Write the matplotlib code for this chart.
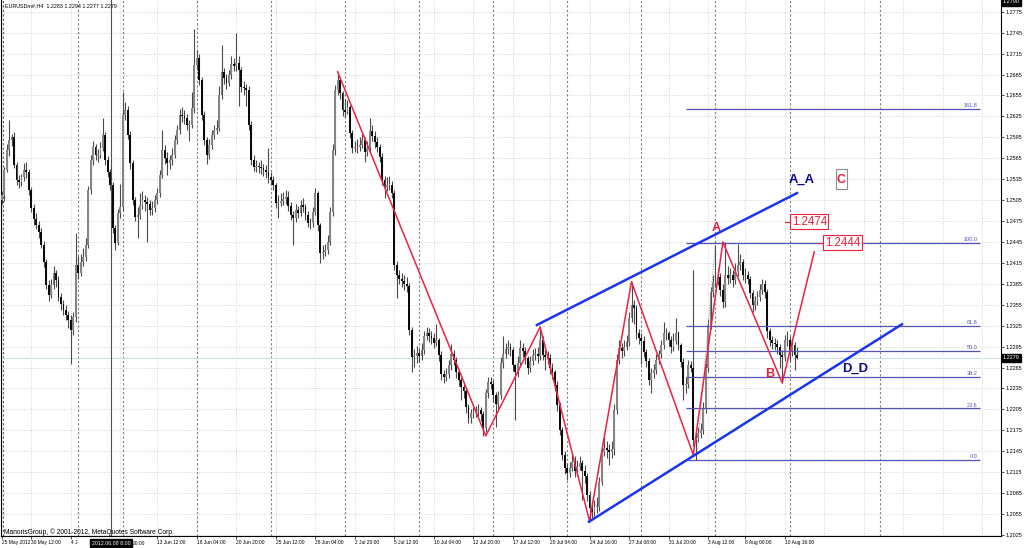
import numpy as np
import matplotlib
matplotlib.use("Agg")
import matplotlib.pyplot as plt
from matplotlib.patches import Rectangle
from matplotlib.transforms import blended_transform_factory

plt.rcParams['font.family'] = ['Liberation Sans', 'DejaVu Sans']

# EURUSD H4 bars, quotes stored as the four digits after "1." (2512 -> 1.2512)
opens = [
    2505, 2512, 2548, 2577, 2591, 2595, 2555, 2534, 2531, 2538,
    2548, 2545, 2519, 2494, 2478, 2469, 2459, 2441, 2416, 2383,
    2369, 2383, 2400, 2390, 2366, 2356, 2347, 2340, 2333, 2319,
    2337, 2412, 2400, 2416, 2423, 2441, 2519, 2562, 2581, 2570,
    2570, 2580, 2598, 2562, 2545, 2527, 2465, 2443, 2486, 2495,
    2627, 2634, 2598, 2558, 2505, 2481, 2484, 2498, 2505, 2502,
    2499, 2491, 2494, 2505, 2515, 2541, 2577, 2565, 2558, 2562,
    2570, 2591, 2605, 2627, 2626, 2623, 2613, 2613, 2637, 2699,
    2709, 2677, 2627, 2591, 2570, 2584, 2598, 2605, 2609, 2655,
    2689, 2680, 2673, 2684, 2700, 2697, 2701, 2691, 2667, 2665,
    2663, 2613, 2562, 2552, 2554, 2552, 2551, 2548, 2545, 2538,
    2534, 2527, 2501, 2501, 2504, 2507, 2509, 2497, 2484, 2480,
    2491, 2487, 2498, 2495, 2484, 2472, 2472, 2488, 2515, 2469,
    2429, 2430, 2433, 2445, 2488, 2577, 2663, 2677, 2658, 2634,
    2631, 2638, 2601, 2580, 2581, 2581, 2584, 2591, 2574, 2580,
    2604, 2597, 2588, 2581, 2567, 2534, 2524, 2527, 2527, 2515,
    2412, 2397, 2392, 2389, 2385, 2382, 2319, 2280, 2281, 2286,
    2281, 2290, 2310, 2314, 2310, 2308, 2300, 2304, 2283, 2255,
    2251, 2255, 2268, 2284, 2276, 2258, 2247, 2237, 2232, 2208,
    2192, 2200, 2200, 2202, 2204, 2198, 2178, 2228, 2244, 2242,
    2225, 2212, 2225, 2271, 2284, 2291, 2294, 2290, 2268, 2258,
    2272, 2293, 2288, 2278, 2265, 2274, 2283, 2284, 2281, 2304,
    2283, 2280, 2279, 2265, 2258, 2240, 2211, 2175, 2140, 2121,
    2114, 2121, 2130, 2117, 2123, 2128, 2117, 2110, 2082, 2064,
    2058, 2065, 2065, 2101, 2144, 2150, 2147, 2144, 2148, 2204,
    2276, 2293, 2288, 2294, 2301, 2336, 2354, 2351, 2314, 2307,
    2303, 2287, 2274, 2247, 2257, 2261, 2276, 2284, 2297, 2314,
    2314, 2305, 2294, 2303, 2314, 2297, 2273, 2240, 2242, 2268,
    2264, 2161, 2164, 2171, 2175, 2207, 2264, 2326, 2373, 2388,
    2388, 2395, 2376, 2359, 2397, 2393, 2397, 2390, 2402, 2412,
    2416, 2397, 2397, 2392, 2372, 2354, 2360, 2366, 2376, 2384,
    2373, 2317, 2304, 2300, 2299, 2294, 2283, 2280, 2304, 2304,
    2287, 2297, 2283]
highs = [
    2518, 2552, 2586, 2620, 2600, 2603, 2560, 2541, 2543, 2558,
    2560, 2550, 2524, 2500, 2486, 2475, 2465, 2446, 2420, 2391,
    2392, 2410, 2405, 2396, 2372, 2362, 2355, 2346, 2340, 2345,
    2458, 2425, 2428, 2436, 2450, 2525, 2570, 2590, 2586, 2578,
    2588, 2622, 2603, 2568, 2550, 2531, 2470, 2492, 2528, 2660,
    2645, 2640, 2604, 2562, 2510, 2495, 2515, 2518, 2512, 2510,
    2505, 2503, 2512, 2522, 2548, 2605, 2584, 2574, 2570, 2580,
    2598, 2612, 2636, 2638, 2634, 2628, 2620, 2660, 2750, 2720,
    2715, 2682, 2632, 2596, 2592, 2606, 2613, 2620, 2668, 2728,
    2695, 2686, 2692, 2712, 2708, 2745, 2712, 2696, 2675, 2672,
    2668, 2618, 2570, 2562, 2560, 2562, 2557, 2555, 2580, 2545,
    2540, 2530, 2512, 2515, 2516, 2520, 2518, 2502, 2490, 2500,
    2497, 2505, 2508, 2500, 2490, 2480, 2495, 2522, 2518, 2472,
    2440, 2442, 2455, 2495, 2585, 2670, 2689, 2682, 2662, 2650,
    2648, 2642, 2606, 2590, 2592, 2595, 2600, 2596, 2590, 2622,
    2612, 2604, 2596, 2586, 2572, 2540, 2538, 2540, 2532, 2520,
    2418, 2405, 2400, 2398, 2395, 2386, 2323, 2292, 2296, 2292,
    2300, 2318, 2323, 2322, 2318, 2315, 2328, 2308, 2288, 2262,
    2264, 2276, 2298, 2290, 2280, 2262, 2252, 2242, 2236, 2212,
    2206, 2208, 2210, 2212, 2208, 2202, 2234, 2252, 2252, 2247,
    2230, 2232, 2280, 2310, 2300, 2304, 2300, 2295, 2270, 2282,
    2305, 2300, 2295, 2282, 2282, 2292, 2293, 2294, 2325, 2310,
    2290, 2288, 2284, 2272, 2262, 2245, 2215, 2180, 2146, 2128,
    2130, 2140, 2138, 2132, 2138, 2133, 2125, 2114, 2088, 2070,
    2075, 2080, 2108, 2150, 2166, 2160, 2155, 2160, 2212, 2285,
    2305, 2300, 2304, 2312, 2345, 2388, 2362, 2355, 2320, 2315,
    2310, 2292, 2278, 2265, 2270, 2285, 2290, 2305, 2330, 2322,
    2318, 2310, 2315, 2336, 2318, 2300, 2278, 2252, 2276, 2275,
    2405, 2172, 2180, 2186, 2215, 2272, 2334, 2380, 2398, 2440,
    2408, 2400, 2384, 2445, 2410, 2408, 2405, 2415, 2442, 2428,
    2420, 2408, 2404, 2396, 2376, 2368, 2375, 2385, 2392, 2390,
    2378, 2322, 2310, 2308, 2305, 2298, 2290, 2312, 2318, 2310,
    2306, 2302, 2294]
lows = [
    2500, 2504, 2545, 2568, 2582, 2551, 2527, 2522, 2525, 2533,
    2537, 2512, 2488, 2470, 2463, 2450, 2436, 2409, 2377, 2360,
    2364, 2378, 2380, 2361, 2348, 2340, 2333, 2322, 2270, 2312,
    2330, 2392, 2396, 2410, 2418, 2436, 2514, 2556, 2562, 2560,
    2565, 2575, 2556, 2538, 2520, 2458, 2434, 2440, 2480, 2490,
    2620, 2592, 2550, 2498, 2475, 2450, 2478, 2492, 2490, 2445,
    2483, 2484, 2488, 2500, 2510, 2536, 2557, 2541, 2550, 2556,
    2566, 2586, 2600, 2617, 2614, 2606, 2590, 2608, 2630, 2692,
    2670, 2620, 2584, 2557, 2564, 2578, 2592, 2600, 2604, 2650,
    2672, 2664, 2668, 2678, 2690, 2690, 2640, 2660, 2655, 2640,
    2605, 2555, 2546, 2545, 2544, 2543, 2540, 2537, 2530, 2526,
    2520, 2494, 2480, 2496, 2498, 2500, 2490, 2476, 2440, 2474,
    2480, 2482, 2488, 2477, 2466, 2463, 2467, 2484, 2460, 2415,
    2420, 2425, 2428, 2440, 2482, 2570, 2655, 2650, 2626, 2624,
    2628, 2594, 2572, 2574, 2572, 2576, 2580, 2560, 2568, 2576,
    2590, 2580, 2574, 2560, 2527, 2508, 2518, 2520, 2508, 2405,
    2365, 2385, 2380, 2376, 2373, 2312, 2258, 2266, 2272, 2273,
    2276, 2285, 2305, 2302, 2298, 2293, 2296, 2275, 2247, 2243,
    2245, 2250, 2262, 2268, 2250, 2238, 2218, 2222, 2200, 2185,
    2186, 2192, 2194, 2196, 2188, 2167, 2172, 2222, 2234, 2216,
    2180, 2206, 2220, 2265, 2278, 2284, 2282, 2260, 2190, 2252,
    2268, 2280, 2270, 2256, 2258, 2268, 2276, 2272, 2276, 2276,
    2262, 2270, 2256, 2248, 2232, 2203, 2168, 2132, 2112, 2104,
    2108, 2116, 2108, 2110, 2118, 2075, 2100, 2074, 2045, 2048,
    2052, 2057, 2060, 2096, 2138, 2135, 2125, 2136, 2140, 2198,
    2270, 2279, 2282, 2290, 2296, 2330, 2328, 2306, 2298, 2270,
    2280, 2266, 2240, 2228, 2250, 2255, 2270, 2278, 2292, 2305,
    2296, 2286, 2288, 2298, 2290, 2266, 2218, 2228, 2236, 2258,
    2152, 2133, 2158, 2164, 2170, 2200, 2258, 2320, 2366, 2380,
    2383, 2368, 2350, 2352, 2384, 2386, 2380, 2385, 2396, 2405,
    2390, 2386, 2384, 2364, 2345, 2348, 2355, 2360, 2370, 2365,
    2308, 2296, 2292, 2290, 2284, 2265, 2243, 2274, 2296, 2275,
    2282, 2262, 2277]
closes = [
    2512, 2548, 2577, 2591, 2595, 2555, 2534, 2531, 2538, 2548,
    2545, 2519, 2494, 2478, 2469, 2459, 2441, 2416, 2383, 2369,
    2383, 2400, 2390, 2366, 2356, 2347, 2340, 2333, 2319, 2337,
    2412, 2400, 2416, 2423, 2441, 2519, 2562, 2581, 2570, 2570,
    2580, 2598, 2562, 2545, 2527, 2465, 2443, 2486, 2495, 2627,
    2634, 2598, 2558, 2505, 2481, 2484, 2498, 2505, 2502, 2499,
    2491, 2494, 2505, 2515, 2541, 2577, 2565, 2558, 2562, 2570,
    2591, 2605, 2627, 2626, 2623, 2613, 2613, 2637, 2699, 2709,
    2677, 2627, 2591, 2570, 2584, 2598, 2605, 2609, 2655, 2689,
    2680, 2673, 2684, 2700, 2697, 2701, 2691, 2667, 2665, 2663,
    2613, 2562, 2552, 2554, 2552, 2551, 2548, 2545, 2538, 2534,
    2527, 2501, 2501, 2504, 2507, 2509, 2497, 2484, 2480, 2491,
    2487, 2498, 2495, 2484, 2472, 2472, 2488, 2515, 2469, 2429,
    2430, 2433, 2445, 2488, 2577, 2663, 2677, 2658, 2634, 2631,
    2638, 2601, 2580, 2581, 2581, 2584, 2591, 2574, 2580, 2604,
    2597, 2588, 2581, 2567, 2534, 2524, 2527, 2527, 2515, 2412,
    2397, 2392, 2389, 2385, 2382, 2319, 2280, 2281, 2286, 2281,
    2290, 2310, 2314, 2310, 2308, 2300, 2304, 2283, 2255, 2251,
    2255, 2268, 2284, 2276, 2258, 2247, 2237, 2232, 2208, 2192,
    2200, 2200, 2202, 2204, 2198, 2178, 2228, 2244, 2242, 2225,
    2212, 2225, 2271, 2284, 2291, 2294, 2290, 2268, 2258, 2272,
    2293, 2288, 2278, 2265, 2274, 2283, 2284, 2281, 2304, 2283,
    2280, 2279, 2265, 2258, 2240, 2211, 2175, 2140, 2121, 2114,
    2121, 2130, 2117, 2123, 2128, 2117, 2110, 2082, 2064, 2058,
    2065, 2065, 2101, 2144, 2150, 2147, 2144, 2148, 2204, 2276,
    2293, 2288, 2294, 2301, 2336, 2354, 2351, 2314, 2307, 2303,
    2287, 2274, 2247, 2257, 2261, 2276, 2284, 2297, 2314, 2314,
    2305, 2294, 2303, 2314, 2297, 2273, 2240, 2242, 2268, 2264,
    2161, 2164, 2171, 2175, 2207, 2264, 2326, 2373, 2388, 2388,
    2395, 2376, 2359, 2397, 2393, 2397, 2390, 2402, 2412, 2416,
    2397, 2397, 2392, 2372, 2354, 2360, 2366, 2376, 2384, 2373,
    2317, 2304, 2300, 2299, 2294, 2283, 2280, 2304, 2304, 2287,
    2297, 2283, 2279]

# time scale labels (bar index where each label starts); two are half hidden
# behind the crosshair date box in the screenshot
time_pos = [0, 12, 28, 63, 79, 95, 111, 127, 143, 159, 175, 191,
            207, 222, 238, 254, 270, 286, 301, 317]
time_labels = ["25 May 2012", "30 May 12:00", "4 J",
               "13 Jun 12:00", "18 Jun 04:00", "20 Jun 20:00", "25 Jun 12:00",
               "28 Jun 04:00", "2 Jul 20:00", "5 Jul 12:00", "10 Jul 04:00",
               "12 Jul 20:00", "17 Jul 12:00", "20 Jul 04:00", "24 Jul 16:00",
               "27 Jul 08:00", "31 Jul 20:00", "3 Aug 12:00", "8 Aug 00:00",
               "10 Aug 16:00"]
grid_pos = [0, 12, 28, 48, 63, 79, 95, 111, 127, 143, 159, 175, 191, 207, 222,
            238, 254, 270, 286, 301, 317, 333, 349, 365, 381, 397]
week_starts = [31, 49, 79, 109, 139, 169, 199, 229, 259, 289, 319, 355.6]
price_ticks = [1.2025, 1.2055, 1.2085, 1.2115, 1.2145, 1.2175, 1.2205, 1.2235,
               1.2265, 1.2295, 1.2325, 1.2355, 1.2385, 1.2415, 1.2445, 1.2475,
               1.2505, 1.2535, 1.2565, 1.2595, 1.2625, 1.2655, 1.2685, 1.2715,
               1.2745, 1.2775]

# analysis objects
zz_bars = [136, 196, 218, 238, 255, 280, 292, 316, 329]
zz_prices = [1.2689, 1.2167, 1.2323, 1.2045, 1.2388, 1.2140, 1.2445, 1.2243, 1.2431]
upper_bars = [216.7, 322]
upper_prices = [1.2326, 1.2515]
lower_bars = [237.8, 364.5]
lower_prices = [1.2044, 1.2327]
fib_levels = [0.0, 23.6, 38.2, 50.0, 61.8, 100.0, 161.8]
fib_low = 1.2133
fib_high = 1.2444
fib_start, fib_end = 277, 396
bid = 1.2279

o = 1 + np.array(opens) / 10000
h = 1 + np.array(highs) / 10000
l = 1 + np.array(lows) / 10000
c = 1 + np.array(closes) / 10000
x = np.arange(len(c))

fig = plt.figure(figsize=(10.24, 5.48), dpi=100)
ax = fig.add_axes([1 / 1024, 12 / 548, 1000 / 1024, 536 / 548])
ax.set_xlim(-0.28, 404.6)
ax.set_ylim(1.20235, 1.27918)

# grid + period separators
for p in price_ticks:
    ax.axhline(p, color='#c4c4c4', lw=0.6, ls=(0, (1, 2)), zorder=0)
for t in grid_pos:
    ax.axvline(t, color='#c4c4c4', lw=0.6, ls=(0, (1, 2)), zorder=0)
for w in week_starts:
    ax.axvline(w, color='#808080', lw=0.8, ls=(0, (2, 2)), zorder=0)
ax.axvline(0.4, color='#606060', lw=0.8, ls=(0, (2, 2)), zorder=0)
ax.axhline(bid, color='#cfdede', lw=0.8, zorder=1)
ax.axvline(44.3, color='#505050', lw=0.8, zorder=1)

# candles
up = c >= o
ax.vlines(x, l, h, color='#4a4a4a', lw=0.8, zorder=2)
body_lo = np.minimum(o, c)
body_h = np.maximum(np.abs(c - o), 0.00008)
ax.bar(x[up], body_h[up], 0.75, bottom=body_lo[up], color='#858585', zorder=3)
ax.bar(x[~up], body_h[~up], 0.75, bottom=body_lo[~up], color='#0a0a0a', zorder=3)

# fibonacci
fib_col = '#5454b4'
rng = fib_high - fib_low
ax.plot([281.5, 289], [1.2140, fib_high], color='#909090', lw=0.7, ls=':', zorder=4)
for lv in fib_levels:
    yv = fib_low + rng * lv / 100
    ax.hlines(yv, fib_start, fib_end, color=fib_col, lw=0.9, zorder=4)
    ax.text(fib_end - 0.8, yv + 0.0001, f"{lv:.1f}", color=fib_col, fontsize=4,
            ha='right', va='bottom', zorder=5)

# zigzag and channel
ax.plot(zz_bars, zz_prices, color='#e8234a', lw=1.1, zorder=5)
ax.plot(upper_bars, upper_prices, color='#1a35f0', lw=1.8, zorder=6)
ax.plot(lower_bars, lower_prices, color='#1a35f0', lw=1.8, zorder=6)

red = '#e8203c'
navy = '#0b0b8a'
ax.text(289.4, 1.2465, "A", color=red, fontsize=9, fontweight='bold', ha='center', va='center', zorder=7)
ax.text(311.1, 1.22557, "B", color=red, fontsize=9, fontweight='bold', ha='center', va='center', zorder=7)
ax.text(339.9, 1.25345, "C", color=red, fontsize=9, fontweight='bold', ha='center', va='center', zorder=7)
ax.add_patch(Rectangle((337.8, 1.25208), 4.4, 0.00287, fill=False, ec='#8c8c8c', lw=0.8, zorder=7))
ax.text(324.0, 1.25345, "A_A", color=navy, fontsize=9.4, fontweight='bold', ha='center', va='center', zorder=7)
ax.text(345.7, 1.22636, "D_D", color=navy, fontsize=9.4, fontweight='bold', ha='center', va='center', zorder=7)

for bx, dash, val in [(327.0, (317.1, 319.1), 1.2474), (340.4, (330.5, 332.5), 1.2444)]:
    ax.plot(dash, [val, val], color=red, lw=0.8, zorder=7)
    ax.text(bx, val, f"{val:.4f}", color=red, fontsize=8.3, ha='center', va='center', zorder=8,
            bbox=dict(boxstyle='square,pad=0.12', fc='white', ec=red, lw=0.8))

# axes styling
ax.spines['top'].set_visible(False)
for s in ['left', 'right', 'bottom']:
    ax.spines[s].set_color('black')
    ax.spines[s].set_linewidth(0.8)
ax.yaxis.tick_right()
ax.set_yticks(price_ticks)
ax.set_yticklabels([f"{p:.4f}" for p in price_ticks])
ax.tick_params(axis='y', length=2, width=0.5, pad=1.5, labelsize=4.0)
ax.set_xticks(time_pos)
ax.set_xticklabels(time_labels)
for lbl in ax.get_xticklabels():
    lbl.set_horizontalalignment('left')
ax.tick_params(axis='x', length=2, width=0.5, pad=1.0, labelsize=3.5)

# black price / time markers
yt = blended_transform_factory(ax.transAxes, ax.transData)
ax.text(1.002, bid, "1.2279", transform=yt, color='white', fontsize=4.0, ha='left', va='center',
        bbox=dict(boxstyle='square,pad=0.25', fc='black', ec='black'), clip_on=False)
ax.text(1.002, 1.2789, "1.2790", transform=yt, color='white', fontsize=4.0, ha='left', va='center',
        bbox=dict(boxstyle='square,pad=0.25', fc='black', ec='black'), clip_on=False)
xt = blended_transform_factory(ax.transData, ax.transAxes)
ax.text(44.3, -0.014, "2012.06.08 8:00", transform=xt, color='white', fontsize=3.8, ha='center',
        va='center', zorder=10, bbox=dict(boxstyle='square,pad=0.35', fc='black', ec='black'),
        clip_on=False)
ax.text(53.2, -0.014, "20:00", transform=xt, color='black', fontsize=3.5, ha='left',
        va='center', clip_on=False)

fig.text(5 / 1024, 1 - 6 / 548, "EURUSDm#,H4  1.2283 1.2294 1.2277 1.2279", fontsize=3.9,
         ha='left', va='center')
fig.text(4 / 1024, 1 - 532 / 548, "ManorisGroup, \u00a9 2001-2012, MetaQuotes Software Corp.",
         fontsize=4.8, ha='left', va='center')

fig.savefig("out.png", dpi=100)
